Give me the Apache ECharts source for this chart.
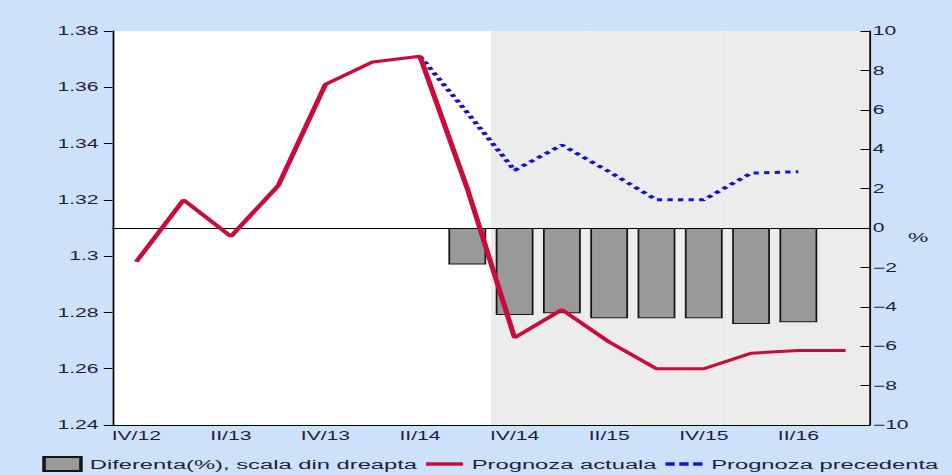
<!DOCTYPE html>
<html><head><meta charset="utf-8">
<script src="https://cdn.jsdelivr.net/npm/echarts@6/dist/echarts.min.js"></script>
<style>
html,body{margin:0;padding:0;background:#cde1fa;overflow:hidden;width:952px;height:475px}
#chart{width:541px;height:475px;transform:scaleX(1.75970);transform-origin:0 0}
</style>
</head><body><div id="chart"></div>
<script>
// Quarters (x axis)
const categories = ['IV/12','I/13','II/13','III/13','IV/13','I/14','II/14','III/14','IV/14','I/15','II/15','III/15','IV/15','I/16','II/16','III/16'];
// Prognoza actuala (left axis)
const actual = [1.298, 1.320, 1.307, 1.325, 1.361, 1.369, 1.371, 1.324, 1.271, 1.281, 1.2695, 1.260, 1.260, 1.2655, 1.2665, 1.2665];
// Prognoza precedenta (left axis)
const previous = [null, null, null, null, null, null, 1.371, 1.351, 1.3305, 1.3395, 1.330, 1.320, 1.320, 1.3295, 1.330, null];
// Diferenta (%) (right axis)
const difference = [null, null, null, null, null, null, null, -1.85, -4.42, -4.33, -4.58, -4.58, -4.58, -4.87, -4.79, null];
// Axis scales
const leftAxis = {min: 1.24, max: 1.38, interval: 0.02};
const rightAxis = {min: -10, max: 10, interval: 2};
// First forecast quarter (shaded region)
const forecastFrom = 'IV/14';

const names = {diff: 'Diferenta(%), scala din dreapta', actual: 'Prognoza actuala', previous: 'Prognoza precedenta'};
const FONT = '"Liberation Sans", Arial, sans-serif';
const TXT = '#1e1e3c';
const RED = '#c90c3a';
const BLUE = '#1414c8';

const startIdx = categories.indexOf(forecastFrom);
const shade = categories.map((c, i) => i >= startIdx ? leftAxis.max : '-');
const toNull = a => a.map(v => v == null ? '-' : v);

const chart = echarts.init(document.getElementById('chart'), null, {renderer: 'svg'});
chart.setOption({
  backgroundColor: '#cde1fa',
  animation: false,
  textStyle: {fontFamily: FONT},
  grid: {left: 64, right: 47, top: 31, bottom: 50, show: true, backgroundColor: '#ffffff', borderWidth: 0},
  legend: {
    left: 24, top: 456, width: 530, padding: 0, itemWidth: 21, itemHeight: 14, itemGap: 5,
    textStyle: {fontFamily: FONT, fontSize: 13.5, color: TXT},
    data: [
      {name: names.diff, icon: 'rect'},
      {name: names.actual, icon: 'path://M0,0H20V3.5H0Z'},
      {name: names.previous, icon: 'path://M0,0H5V3.5H0Z M7.5,0H12.5V3.5H7.5Z M15,0H20V3.5H15Z'}
    ]
  },
  xAxis: [{
    type: 'category', data: categories, boundaryGap: true, position: 'bottom', z: 3,
    axisLine: {onZero: false, lineStyle: {color: '#000', width: 1}},
    axisTick: {inside: true, length: 5, alignWithLabel: true, interval: 1, lineStyle: {color: '#000'}},
    axisLabel: {interval: 1, margin: 5, fontSize: 12, color: TXT, fontFamily: FONT},
    splitLine: {show: false}
  }, {
    type: 'category', data: categories, boundaryGap: true, position: 'top', z: 3,
    axisLine: {show: true, onZero: true, onZeroAxisIndex: 1, lineStyle: {color: '#000', width: 1}},
    axisTick: {show: false}, axisLabel: {show: false}, splitLine: {show: false}
  }],
  yAxis: [{
    type: 'value', position: 'left', min: leftAxis.min, max: leftAxis.max, interval: leftAxis.interval, z: 3,
    axisLine: {show: true, lineStyle: {color: '#000', width: 1}},
    axisTick: {show: true, inside: false, length: 5, lineStyle: {color: '#000'}},
    axisLabel: {margin: 8, fontSize: 12, color: TXT, fontFamily: FONT},
    splitLine: {show: false}
  }, {
    type: 'value', position: 'right', min: rightAxis.min, max: rightAxis.max, interval: rightAxis.interval, z: 3,
    name: '%', nameLocation: 'middle', nameGap: 22, nameRotate: 0, nameMoveOverlap: false,
    nameTextStyle: {fontSize: 13, color: TXT, fontFamily: FONT, verticalAlign: 'top', padding: [3, 0, 0, 0]},
    axisLine: {show: true, lineStyle: {color: '#000', width: 1}},
    axisTick: {show: true, inside: true, length: 5, lineStyle: {color: '#000'}},
    axisLabel: {margin: 2, fontSize: 12, color: TXT, fontFamily: FONT,
      formatter: v => v < 0 ? '\u2212' + (-v) : String(v)},
    splitLine: {show: false}
  }],
  series: [{
    name: 'forecast-shade', type: 'bar', xAxisIndex: 1, yAxisIndex: 0, data: shade,
    barWidth: '100%', silent: true, z: 1, itemStyle: {color: '#ececec'}
  }, {
    name: names.diff, type: 'bar', xAxisIndex: 0, yAxisIndex: 1, data: toNull(difference),
    barWidth: '80%', z: 2, itemStyle: {color: '#999999', borderColor: '#151515', borderWidth: 1}
  }, {
    name: names.previous, type: 'line', xAxisIndex: 0, yAxisIndex: 0, data: toNull(previous),
    symbol: 'none', z: 4, itemStyle: {color: BLUE},
    lineStyle: {color: BLUE, width: 3, type: [3, 3]}
  }, {
    name: names.actual, type: 'line', xAxisIndex: 0, yAxisIndex: 0, data: actual,
    symbol: 'none', z: 5, itemStyle: {color: RED},
    lineStyle: {color: RED, width: 3}
  }]
});
</script>
</body></html>
